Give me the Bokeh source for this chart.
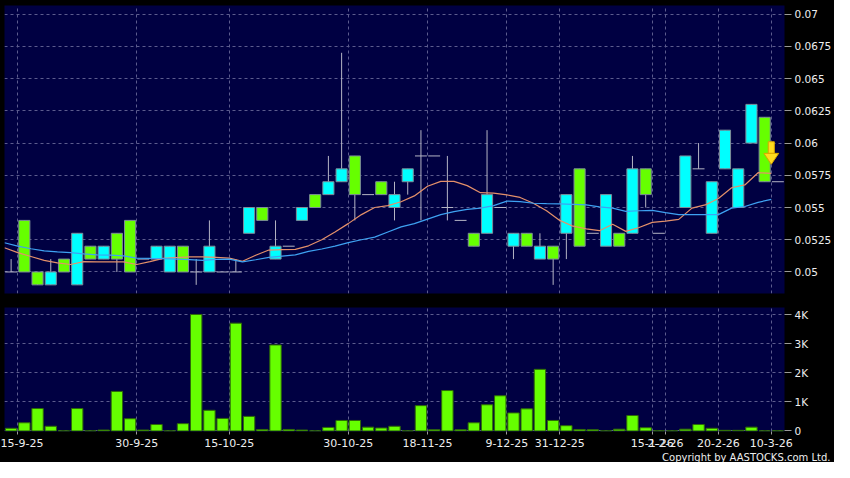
import numpy as np
from bokeh.plotting import figure
from bokeh.layouts import column
from bokeh.models import (Range1d, FixedTicker, Title, NumeralTickFormatter)
from bokeh.embed import file_html
from bokeh.resources import INLINE

nan = float("nan")

# ---------------- data ----------------
opens = [0.050, 0.054, 0.050, 0.049, 0.051, 0.049, 0.052, 0.051, 0.053, 0.054,
         0.051, 0.051, 0.050, 0.052, 0.050, 0.050, 0.050, 0.050, 0.053, 0.055,
         0.051, 0.052, 0.054, 0.056, 0.056, 0.057, 0.059, 0.056, 0.057, 0.055,
         0.057, 0.059, 0.059, 0.055, 0.054, 0.053, 0.053, 0.055, 0.052, 0.053,
         0.051, 0.052, 0.053, 0.058, 0.053, 0.052, 0.053, 0.053, 0.058, 0.053,
         nan, 0.055, 0.058, 0.053, 0.058, 0.055, 0.060, 0.062, 0.057]
highs = [0.051, 0.054, 0.050, 0.051, 0.051, 0.053, 0.052, 0.052, 0.053, 0.054,
         0.051, 0.052, 0.052, 0.052, 0.051, 0.054, 0.050, 0.051, 0.055, 0.055,
         0.054, 0.052, 0.055, 0.056, 0.059, 0.067, 0.059, 0.056, 0.057, 0.057,
         0.058, 0.061, 0.059, 0.059, 0.054, 0.053, 0.061, 0.055, 0.053, 0.053,
         0.053, 0.052, 0.056, 0.058, 0.053, 0.056, 0.053, 0.059, 0.058, 0.053,
         nan, 0.059, 0.060, 0.057, 0.061, 0.058, 0.063, 0.062, 0.057]
lows = [0.050, 0.050, 0.049, 0.049, 0.050, 0.049, 0.051, 0.051, 0.050, 0.050,
        0.051, 0.051, 0.050, 0.050, 0.049, 0.050, 0.050, 0.050, 0.053, 0.054,
        0.051, 0.052, 0.054, 0.055, 0.056, 0.057, 0.054, 0.056, 0.056, 0.054,
        0.056, 0.054, 0.059, 0.054, 0.054, 0.052, 0.053, 0.055, 0.051, 0.052,
        0.051, 0.049, 0.051, 0.052, 0.053, 0.052, 0.052, 0.053, 0.055, 0.053,
        nan, 0.055, 0.058, 0.053, 0.058, 0.055, 0.060, 0.057, 0.057]
closes = [0.050, 0.050, 0.049, 0.050, 0.050, 0.053, 0.051, 0.052, 0.051, 0.050,
          0.051, 0.052, 0.052, 0.050, 0.050, 0.052, 0.050, 0.050, 0.055, 0.054,
          0.052, 0.052, 0.055, 0.055, 0.057, 0.058, 0.056, 0.056, 0.056, 0.056,
          0.058, 0.059, 0.059, 0.055, 0.054, 0.052, 0.056, 0.055, 0.053, 0.052,
          0.052, 0.051, 0.056, 0.052, 0.053, 0.056, 0.052, 0.058, 0.056, 0.053,
          nan, 0.059, 0.058, 0.057, 0.061, 0.058, 0.063, 0.057, 0.057]
volumes = [90, 280, 770, 160, 0, 770, 0, 30, 1360, 420,
           30, 220, 0, 250, 4010, 710, 430, 3710, 500, 50,
           2960, 50, 30, 0, 120, 360, 360, 130, 100, 160,
           0, 870, 40, 1390, 40, 280, 900, 1210, 620, 760,
           2120, 360, 180, 50, 40, 0, 60, 530, 110, 0,
           0, 60, 220, 90, 20, 20, 130, 0, 0]
# moving averages, one value per session boundary (first one precedes session 0)
ma_short = [0.05188, 0.0515, 0.0512, 0.0509, 0.0507, 0.05058, 0.0508, 0.05078, 0.05078, 0.05078,
            0.05058, 0.0508, 0.05105, 0.05112, 0.05117, 0.05117, 0.05113, 0.05107, 0.05083, 0.0513,
            0.0517, 0.05173, 0.05175, 0.05203, 0.0525, 0.0531, 0.05375, 0.05445, 0.055, 0.05515,
            0.05545, 0.0559, 0.05665, 0.05703, 0.05703, 0.0567, 0.05615, 0.05612, 0.05598, 0.05578,
            0.05533, 0.05475, 0.054, 0.05355, 0.05335, 0.0532, 0.0537, 0.05315, 0.05345, 0.05385,
            0.05395, 0.05408, 0.05495, 0.0552, 0.0557, 0.05653, 0.05675, 0.0577, 0.05765]
ma_long = [0.05227, 0.052, 0.0518, 0.05163, 0.05156, 0.0515, 0.0514, 0.05133, 0.0513, 0.05125,
           0.05108, 0.05105, 0.05103, 0.051, 0.05095, 0.0509, 0.05098, 0.051, 0.05078, 0.05095,
           0.05113, 0.05123, 0.05133, 0.0516, 0.05178, 0.052, 0.05228, 0.0525, 0.0527, 0.0531,
           0.0535, 0.05375, 0.0541, 0.05445, 0.05468, 0.05485, 0.05495, 0.05515, 0.0555, 0.05545,
           0.05533, 0.0553, 0.05528, 0.05525, 0.0552, 0.05505, 0.05495, 0.0547, 0.05475, 0.05478,
           0.0546, 0.05445, 0.05445, 0.05445, 0.05445, 0.05495, 0.05508, 0.0554, 0.05563]
date_labels = ["15-9-25", "30-9-25", "15-10-25", "30-10-25", "18-11-25", "9-12-25",
               "31-12-25", "15-1-26", "2-2-26", "20-2-26", "10-3-26"]
label_slots = [0, 9, 16, 25, 31, 37, 41, 48, 49, 53, 57]
price_ticks = [0.05, 0.0525, 0.055, 0.0575, 0.06, 0.0625, 0.065, 0.0675, 0.07]
volume_ticks = [0, 1000, 2000, 3000, 4000]
volume_tick_labels = ["0", "1K", "2K", "3K", "4K"]
signal_slot = [57]
signal_top = [0.0601]
signal_head = [0.0592]
signal_tip = [0.05835]

# ---------------- styling ----------------
NAVY = "#000042"
GRID = "#5c5c8e"
UPC = "#00ffff"
DNC = "#66ff00"
EDGE = "#7d8c99"
WICK = "#b4b4c4"
TXT = "#eeeeee"
FONT = "DejaVu Sans"
W = 834
BG = {"background-color": "#000000"}

n = len(opens)
idx = np.arange(n, dtype=float)
o = np.array(opens, dtype=float)
h = np.array(highs, dtype=float)
l = np.array(lows, dtype=float)
c = np.array(closes, dtype=float)
valid = ~np.isnan(o)
up = valid & (c > o)
dn = valid & (c < o)
flat = valid & (c == o)
wick = valid & (h > l)

xr = Range1d(-0.5, n - 0.5)
grid_x = [s + 0.5 for s in label_slots]


def style_grid(g, ticks):
    g.ticker = FixedTicker(ticks=ticks)
    g.grid_line_color = GRID
    g.grid_line_dash = "3 3"
    g.grid_line_width = 1


def style_yaxis(a, ticks):
    a.ticker = FixedTicker(ticks=ticks)
    a.axis_line_color = None
    a.major_tick_in = 0
    a.major_tick_out = 7
    a.major_tick_line_color = "#9a9a9a"
    a.minor_tick_line_color = None
    a.major_label_standoff = 3
    a.major_label_text_color = TXT
    a.major_label_text_font = FONT
    a.major_label_text_font_size = "10.5px"


p = figure(width=W, height=300, x_range=xr, y_range=Range1d(0.04833, 0.07067),
           y_axis_location="right",
           output_backend="svg", toolbar_location=None,
           min_border_left=4, min_border_right=50, min_border_top=5, min_border_bottom=7,
           background_fill_color=NAVY, border_fill_color="black",
           outline_line_color=None, outline_line_alpha=0, styles=BG)
p.xaxis.visible = False
for g in p.ygrid:
    style_grid(g, price_ticks)
for g in p.xgrid:
    style_grid(g, grid_x)

ya = p.yaxis[0]
style_yaxis(ya, price_ticks)
ya.formatter = NumeralTickFormatter(format="0.0[000]")

# wicks
p.segment(x0=idx[wick], y0=l[wick], x1=idx[wick], y1=h[wick], line_color=WICK, line_width=1)
# doji
p.segment(x0=idx[flat] - 0.45, y0=o[flat], x1=idx[flat] + 0.45, y1=o[flat],
          line_color=WICK, line_width=1)
# bodies
p.vbar(x=idx[up], width=0.84, top=c[up], bottom=o[up], fill_color=UPC,
       line_color=EDGE, line_width=1)
p.vbar(x=idx[dn], width=0.84, top=o[dn], bottom=c[dn], fill_color=DNC,
       line_color=EDGE, line_width=1)

ma_x = np.arange(-1, len(ma_short) - 1) + 0.5
p.line(ma_x, ma_short, line_color="#e4906a", line_width=1.2)
p.line(ma_x, ma_long, line_color="#3ea2f2", line_width=1.2)

# signal arrow
sx = np.array(signal_slot, dtype=float) + 0.5
p.vbar(x=sx, width=0.46, top=signal_top, bottom=signal_head,
       fill_color="#ffdc1e", line_color="#d9a600", line_width=1)
for x0, yb, yt in zip(sx, signal_head, signal_tip):
    p.patch([x0 - 0.56, x0 + 0.56, x0], [yb, yb, yt],
            fill_color="#ffdc1e", line_color="#d9a600", line_width=1)

# ---------------- volume panel ----------------
v = figure(width=W, height=162, x_range=xr, y_range=Range1d(-20, 4250),
           y_axis_location="right", output_backend="svg", toolbar_location=None,
           min_border_left=4, min_border_right=50, min_border_top=7, min_border_bottom=0,
           background_fill_color=NAVY, border_fill_color="black",
           outline_line_color=None, outline_line_alpha=0, styles=BG)
v.vbar(x=idx, width=0.86, top=volumes, bottom=0, fill_color=DNC,
       line_color="#2f6a08", line_width=1)

for g in v.ygrid:
    style_grid(g, volume_ticks)
for g in v.xgrid:
    style_grid(g, grid_x)

va = v.yaxis[0]
style_yaxis(va, volume_ticks)
va.major_label_overrides = {t: s for t, s in zip(volume_ticks, volume_tick_labels)}

xa = v.xaxis[0]
xa.ticker = FixedTicker(ticks=grid_x)
xa.major_label_overrides = {t: s for t, s in zip(grid_x, date_labels)}
xa.axis_line_color = None
xa.major_tick_in = 0
xa.major_tick_out = 3
xa.major_tick_line_color = "#9a9a9a"
xa.minor_tick_line_color = None
xa.major_label_standoff = 4
xa.major_label_text_color = TXT
xa.major_label_text_font = FONT
xa.major_label_text_font_size = "11px"

v.add_layout(Title(text="Copyright by AASTOCKS.com Ltd.", align="right", offset=-46,
                   text_font=FONT, text_font_size="10px", text_font_style="normal",
                   text_color=TXT, standoff=0), "below")

layout = column(p, v, spacing=0, styles=BG)
open("out.html", "w").write(file_html(layout, INLINE))
